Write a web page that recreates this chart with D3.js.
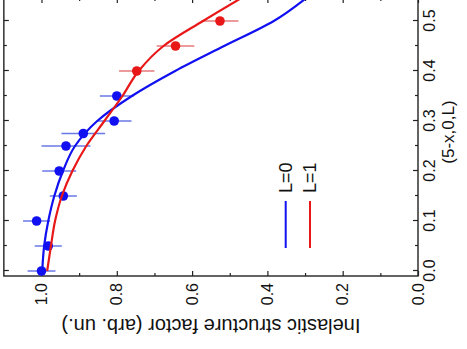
<!DOCTYPE html>
<html><head><meta charset="utf-8">
<script src="https://cdn.jsdelivr.net/npm/d3@7"></script>
<style>html,body{margin:0;padding:0;background:#fff;overflow:hidden}</style>
</head><body><svg id="c" width="467" height="349"></svg>
<script>
// ---- data (original, un-rotated chart) ----
const xMajorTicks = [0, 0.1, 0.2, 0.3, 0.4, 0.5];
const xMinorTicks = [0.05, 0.15, 0.25, 0.35, 0.45];
const yMajorTicks = [0, 0.2, 0.4, 0.6, 0.8, 1.0];
const yMinorTicks = [0.1, 0.3, 0.5, 0.7, 0.9];

const l0X   = [0, 0.05, 0.1, 0.15, 0.2, 0.25, 0.275, 0.3, 0.35];
const l0Y   = [1.0, 0.982, 1.013, 0.942, 0.953, 0.935, 0.889, 0.807, 0.800];
const l0Err = [0.037, 0.036, 0.036, 0.036, 0.045, 0.065, 0.058, 0.046, 0.045];

const l1X   = [0.4, 0.45, 0.5];
const l1Y   = [0.747, 0.644, 0.526];
const l1Err = [0.047, 0.050, 0.049];

const fitX  = [0, 0.05, 0.1, 0.15, 0.2, 0.25, 0.3, 0.35, 0.4, 0.45, 0.5, 0.55];
const fitL0 = [0.998, 0.993, 0.982, 0.966, 0.943, 0.911, 0.852, 0.760, 0.645, 0.515, 0.383, 0.29];
const fitL1 = [0.985, 0.975, 0.964, 0.946, 0.918, 0.881, 0.833, 0.785, 0.742, 0.676, 0.571, 0.46];

const legendLabels = ["L=0", "L=1"];
const xTitle = "(5-x,0,L)";
const yTitle = "Inelastic structure factor (arb. un.)";

// ---- drawing ----
const FONT = "Arial, 'Liberation Sans', Helvetica, sans-serif";
const svg = d3.select('#c');
// whole chart is rotated 90deg counter-clockwise
const g = svg.append('g').attr('transform', 'translate(0,349) rotate(-90)');

const x = d3.scaleLinear().domain([-0.01, 0.546]).range([73, 351]);
const y = d3.scaleLinear().domain([0, 1.1]).range([418, 3.85]);

const blue = '#1010f0', red = '#e81818';
const blueBar = '#6a78e6', redBar = '#e47a7a';

g.append('clipPath').attr('id', 'clip').append('rect')
  .attr('x', x(-0.01)).attr('y', y(1.1))
  .attr('width', x(0.546) - x(-0.01)).attr('height', y(0) - y(1.1));

function styleAxis(sel, fs) {
  sel.select('.domain').remove();
  sel.selectAll('line').attr('stroke', '#222').attr('stroke-width', 1.2);
  sel.selectAll('text').attr('font-size', fs).attr('font-family', FONT).attr('fill', '#111');
  sel.attr('font-family', FONT);
}

// bottom (x) axis
const gxb = g.append('g').attr('transform', `translate(0,${y(0)})`)
  .call(d3.axisBottom(x).tickValues(xMajorTicks).tickFormat(d3.format('.1f'))
    .tickSizeInner(-5).tickSizeOuter(0).tickPadding(6));
styleAxis(gxb, 16);
const gxbm = g.append('g').attr('transform', `translate(0,${y(0)})`)
  .call(d3.axisBottom(x).tickValues(xMinorTicks).tickFormat('').tickSizeInner(-3).tickSizeOuter(0));
styleAxis(gxbm, 16);
// top mirror
const gxt = g.append('g').attr('transform', `translate(0,${y(1.1)})`)
  .call(d3.axisTop(x).tickValues(xMajorTicks).tickFormat('').tickSizeInner(-5).tickSizeOuter(0));
styleAxis(gxt, 16);
const gxtm = g.append('g').attr('transform', `translate(0,${y(1.1)})`)
  .call(d3.axisTop(x).tickValues(xMinorTicks).tickFormat('').tickSizeInner(-3).tickSizeOuter(0));
styleAxis(gxtm, 16);

// left (y) axis
const gyl = g.append('g').attr('transform', `translate(${x(-0.01)},0)`)
  .call(d3.axisLeft(y).tickValues(yMajorTicks).tickFormat(d3.format('.1f'))
    .tickSizeInner(-5).tickSizeOuter(0).tickPadding(7));
styleAxis(gyl, 16);
const gylm = g.append('g').attr('transform', `translate(${x(-0.01)},0)`)
  .call(d3.axisLeft(y).tickValues(yMinorTicks).tickFormat('').tickSizeInner(-3).tickSizeOuter(0));
styleAxis(gylm, 16);
// right mirror
const gyr = g.append('g').attr('transform', `translate(${x(0.546)},0)`)
  .call(d3.axisRight(y).tickValues(yMajorTicks).tickFormat('').tickSizeInner(-5).tickSizeOuter(0));
styleAxis(gyr, 16);
const gyrm = g.append('g').attr('transform', `translate(${x(0.546)},0)`)
  .call(d3.axisRight(y).tickValues(yMinorTicks).tickFormat('').tickSizeInner(-3).tickSizeOuter(0));
styleAxis(gyrm, 16);

// frame
g.append('rect')
  .attr('x', x(-0.01)).attr('y', y(1.1))
  .attr('width', x(0.546) - x(-0.01)).attr('height', y(0) - y(1.1))
  .attr('fill', 'none').attr('stroke', '#222').attr('stroke-width', 1.4);

// error bars
const data0 = l0X.map((d, i) => ({x: d, y: l0Y[i], e: l0Err[i]}));
const data1 = l1X.map((d, i) => ({x: d, y: l1Y[i], e: l1Err[i]}));
const plot = g.append('g').attr('clip-path', 'url(#clip)');

function bars(data, col) {
  plot.append('g').selectAll('line').data(data).join('line')
    .attr('x1', d => x(d.x)).attr('x2', d => x(d.x))
    .attr('y1', d => y(d.y - d.e)).attr('y2', d => y(d.y + d.e))
    .attr('stroke', col).attr('stroke-width', 1.3);
}
bars(data0, blueBar);
bars(data1, redBar);

function pts(data, col) {
  plot.append('g').selectAll('circle').data(data).join('circle')
    .attr('cx', d => x(d.x)).attr('cy', d => y(d.y)).attr('r', 4.8)
    .attr('fill', col);
}
pts(data0, blue);
pts(data1, red);

// fit curves
const line = d3.line().x(d => x(d[0])).y(d => y(d[1])).curve(d3.curveMonotoneX);
plot.append('path').datum(fitX.map((d, i) => [d, fitL0[i]]))
  .attr('d', line).attr('fill', 'none').attr('stroke', blue).attr('stroke-width', 2.2);
plot.append('path').datum(fitX.map((d, i) => [d, fitL1[i]]))
  .attr('d', line).attr('fill', 'none').attr('stroke', red).attr('stroke-width', 2.2);

// legend
const legCols = [blue, red];
const leg = g.append('g');
legendLabels.forEach((lab, i) => {
  const py = 285.7 + i * 24.3;
  leg.append('line').attr('x1', 101).attr('x2', 148).attr('y1', py).attr('y2', py)
    .attr('stroke', legCols[i]).attr('stroke-width', 2);
  leg.append('text').attr('x', 156).attr('y', py).attr('dy', '0.36em')
    .attr('font-family', FONT).attr('font-size', 18).attr('fill', '#111').text(lab);
});

// axis titles
g.append('text').attr('x', 217).attr('y', 454)
  .attr('text-anchor', 'middle').attr('font-family', FONT).attr('font-size', 17)
  .attr('fill', '#111').text(xTitle);
g.append('text').attr('transform', `translate(30,${(y(0) + y(1.1)) / 2}) rotate(-90)`)
  .attr('text-anchor', 'middle').attr('font-family', FONT).attr('font-size', 20)
  .attr('fill', '#111').text(yTitle);
</script>
</body></html>
